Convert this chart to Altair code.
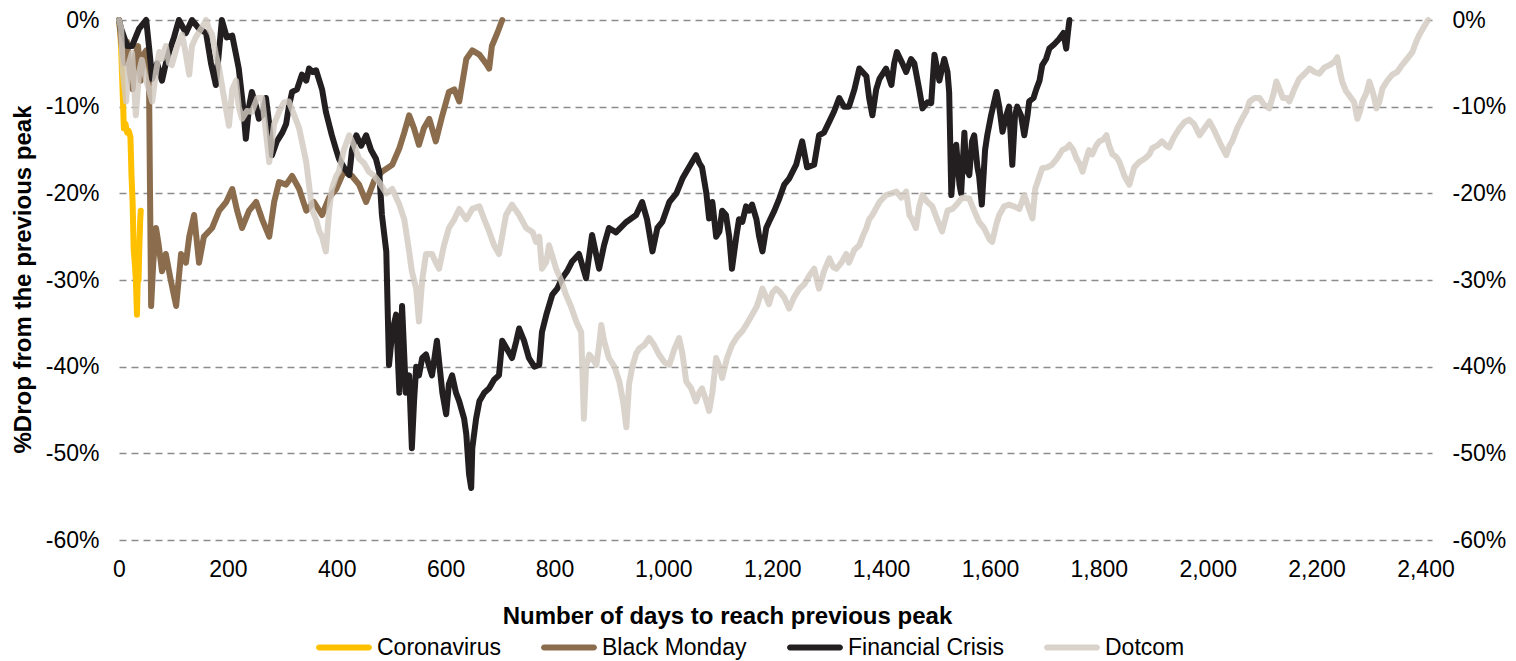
import altair as alt
import pandas as pd

FONT = "Liberation Sans, Arial, Helvetica, sans-serif"

series_names = ["Coronavirus", "Black Monday", "Financial Crisis", "Dotcom"]
series_colors = ["#FFC000", "#8B6D4D", "#231F20", "#D9D3CC"]
x_ticks = list(range(0, 2401, 200))
y_ticks = [0, -10, -20, -30, -40, -50, -60]

# Coronavirus
cv_days = [0, 2, 4, 6, 9, 12, 15, 18, 21, 23, 25, 27, 29, 31, 33, 34, 35, 36, 37, 38, 39, 40]
cv_pct = [0, -1, -3.3, -7, -12.5, -12, -13, -12.8, -13.5, -18, -21, -26.5, -28, -30, -34, -31, -29, -30, -27, -25, -23, -22]

# Black Monday
bm_days = [0, 5, 10, 15, 20, 25, 30, 35, 40, 45, 50, 55, 57, 59, 63, 68, 73, 79, 86, 95,
           105, 114, 123, 129, 138, 147, 156, 171, 184, 197, 208, 217, 226, 239, 252, 263, 276, 285, 294, 307,
           318, 331, 344, 358, 373, 386, 399, 413, 428, 441, 454, 469, 483, 502, 515, 524, 533, 542, 551, 560,
           570, 582, 594, 606, 616, 625, 638, 649, 662, 674, 680, 685, 695, 704]
bm_pct = [0, -3, -5, -2.5, -6, -8, -4, -3, -7, -4, -3.5, -6, -20, -33, -28, -24, -26, -29, -27, -30,
          -33, -27, -28, -25, -22.5, -28, -25, -24, -22, -21, -19.5, -22, -24, -22, -21, -23, -25, -21, -18.7, -19,
          -18, -19.5, -22, -21, -22.5, -20.5, -19.5, -17.5, -18, -19, -21, -18.5, -17.5, -16.7, -14.8, -13, -11, -12.5, -14.4, -12.5,
          -11.4, -14, -11, -8.3, -8, -9.4, -4.5, -3.5, -4, -5, -5.6, -3, -1.5, 0]

# Financial Crisis
fc_days = [0, 4, 15, 24, 37, 50, 55, 61, 70, 79, 86, 92, 101, 110, 123, 134, 147, 160, 169, 178,
           189, 198, 208, 215, 220, 228, 233, 239, 244, 252, 257, 263, 270, 276, 281, 290, 300, 307, 312, 318,
           327, 336, 344, 349, 356, 362, 368, 373, 380, 391, 399, 404, 413, 423, 428, 436, 445, 454, 463, 472,
           478, 483, 491, 496, 502, 509, 515, 520, 527, 533, 538, 542, 546, 551, 557, 564, 570, 575, 584, 594,
           601, 606, 612, 619, 625, 634, 638, 643, 647, 649, 656, 662, 671, 680, 689, 698, 704, 713, 722, 730,
           735, 744, 753, 763, 772, 777, 785, 796, 805, 814, 823, 832, 845, 858, 869, 882, 891, 900, 913, 932,
           950, 961, 970, 980, 989, 998, 1011, 1024, 1035, 1047, 1060, 1066, 1071, 1079, 1084, 1090, 1097, 1103, 1108, 1115,
           1121, 1126, 1134, 1139, 1145, 1152, 1158, 1163, 1171, 1176, 1182, 1189, 1194, 1204, 1213, 1222, 1231, 1244, 1255, 1264,
           1277, 1286, 1295, 1305, 1314, 1323, 1332, 1341, 1351, 1360, 1373, 1378, 1384, 1391, 1397, 1409, 1419, 1424, 1429, 1439,
           1446, 1455, 1461, 1470, 1476, 1485, 1492, 1498, 1507, 1516, 1522, 1525, 1529, 1534, 1538, 1544, 1547, 1553, 1556, 1562,
           1567, 1571, 1577, 1580, 1585, 1591, 1595, 1602, 1612, 1617, 1623, 1630, 1635, 1641, 1646, 1650, 1657, 1663, 1669, 1672,
           1680, 1685, 1691, 1696, 1703, 1709, 1718, 1727, 1735, 1740, 1744, 1746]
fc_pct = [0, -1, -3, -3, -1, 0, -3, -6.8, -5, -7, -5, -3.7, -2, 0, -1.5, 0, -1, -1.5, -5, -7.5,
          0, -2, -1.8, -4, -5.6, -10, -13.7, -10, -8.3, -10, -11.4, -11, -9, -12, -15.6, -14, -13, -12, -10, -8.3,
          -8, -6.3, -7, -5.6, -6, -5.8, -7, -8, -10.6, -13.3, -15, -16, -17, -17.9, -15, -13.3, -14.5, -13.3, -15, -16,
          -17.5, -22.5, -26.7, -39.8, -36, -34, -43, -33, -43, -41, -49.4, -44, -40, -41, -39, -38.6, -40, -41, -37, -43,
          -45.5, -42, -41, -43, -44, -46, -47.8, -52.4, -54, -49.4, -46, -44, -43, -42.5, -41.5, -41, -37, -38, -39, -37,
          -35.6, -37, -39, -40, -39.8, -36, -34, -31.7, -31, -29.8, -29, -27.9, -27, -29.8, -24.8, -28.7, -26, -24, -24.5, -23.3,
          -22.5, -21, -23, -26.7, -24, -23.3, -21, -20, -18.3, -17, -15.6, -16.5, -17, -20, -22.9, -21, -25, -24.4, -22, -22.5,
          -25, -28.7, -25, -23, -23.3, -21.5, -22, -21.3, -23, -25, -26.7, -24, -23.3, -22, -20.6, -19, -18.3, -16.7, -14, -17,
          -16.7, -13.3, -13, -11.7, -10.5, -9, -10, -10, -8, -5.6, -6.5, -9, -11, -8, -6.8, -5.6, -7.5, -5, -3.7, -5,
          -6, -4.5, -5, -8, -10.2, -9.5, -9.6, -4, -7, -4.5, -6, -8.3, -20.2, -16, -14.4, -19, -20, -13, -17, -17.9,
          -14, -13.3, -17, -18, -21.3, -15, -13.3, -11, -8.3, -10, -12.9, -11, -10, -16.7, -11, -10, -11, -13.3, -11, -9.4,
          -9, -8, -7, -5.2, -4.5, -3.3, -2.8, -2.2, -1.5, -3.3, -1, 0]

# Dotcom
dc_days = [0, 4, 7, 13, 18, 24, 31, 37, 42, 50, 55, 61, 68, 74, 79, 86, 92, 97, 107, 116,
           123, 129, 134, 141, 151, 160, 165, 171, 178, 184, 193, 202, 208, 215, 220, 226, 235, 244, 254, 263,
           270, 276, 285, 294, 303, 312, 322, 331, 336, 344, 349, 355, 362, 368, 373, 380, 386, 391, 399, 404,
           413, 423, 432, 441, 450, 459, 469, 478, 491, 502, 515, 524, 533, 538, 546, 551, 557, 564, 575, 582,
           588, 597, 606, 616, 625, 638, 649, 662, 671, 680, 689, 698, 711, 722, 735, 748, 760, 766, 772, 777,
           785, 790, 803, 812, 821, 830, 840, 849, 854, 858, 864, 869, 877, 882, 886, 891, 900, 910, 919, 926,
           932, 937, 943, 950, 956, 965, 974, 983, 992, 1002, 1011, 1020, 1029, 1035, 1042, 1051, 1060, 1066, 1071, 1079,
           1084, 1090, 1097, 1103, 1108, 1117, 1126, 1136, 1145, 1154, 1163, 1172, 1182, 1189, 1194, 1200, 1207, 1213, 1222, 1231,
           1240, 1250, 1259, 1268, 1277, 1282, 1286, 1295, 1305, 1312, 1318, 1327, 1336, 1341, 1351, 1360, 1366, 1373, 1378, 1384,
           1397, 1409, 1419, 1428, 1437, 1446, 1452, 1457, 1464, 1470, 1476, 1485, 1494, 1503, 1512, 1522, 1531, 1540, 1549, 1562,
           1571, 1580, 1589, 1599, 1604, 1612, 1617, 1626, 1635, 1644, 1654, 1663, 1670, 1678, 1683, 1691, 1696, 1705, 1714, 1723,
           1733, 1740, 1746, 1753, 1759, 1764, 1770, 1777, 1782, 1788, 1795, 1801, 1808, 1814, 1819, 1825, 1832, 1838, 1847, 1856,
           1865, 1874, 1884, 1893, 1898, 1907, 1916, 1924, 1929, 1938, 1948, 1957, 1966, 1975, 1985, 1994, 2003, 2010, 2016, 2025,
           2034, 2040, 2045, 2054, 2063, 2071, 2077, 2086, 2095, 2104, 2113, 2121, 2126, 2132, 2138, 2145, 2150, 2159, 2168, 2178,
           2187, 2196, 2205, 2214, 2224, 2233, 2238, 2243, 2247, 2254, 2260, 2269, 2275, 2280, 2284, 2291, 2297, 2304, 2310, 2315,
           2321, 2330, 2339, 2348, 2357, 2366, 2376, 2383, 2388, 2397, 2405]
dc_pct = [0, -1, -6, -9.4, -5, -3.8, -11, -6, -4.6, -7, -8, -9.4, -6, -3.7, -4.5, -3, -5, -5.2, -3, -1.7,
          -4, -6.3, -3, -2, -1, 0, -1, -1.7, -4, -5.6, -9, -12.2, -8, -7, -10, -11.4, -10.5, -10.6, -9, -9,
          -13, -16.4, -12, -10.6, -9.5, -9.4, -11, -12.5, -14, -16.4, -19, -22, -23, -24.4, -25, -26.7, -22, -19.5, -18, -17.5,
          -15, -13.3, -14.5, -16, -16.5, -17.5, -18, -18.7, -20, -19.5, -21.3, -23, -26.7, -29, -31, -34.8, -30, -27, -27, -28,
          -28.7, -26, -24, -23, -21.8, -23, -21.8, -21.5, -23, -24.4, -26, -27, -22.5, -21.3, -22.5, -24, -24.5, -25.6, -25, -28.7,
          -27.9, -26, -28.7, -30, -31.7, -33, -34.8, -36, -46, -40, -38.6, -39, -39.8, -37.5, -35.2, -37, -39, -40, -41.7, -44,
          -47, -42, -40, -38.5, -37.9, -37.5, -36.7, -37.5, -38.6, -39.5, -39.8, -38, -36.7, -38.5, -41.7, -42.5, -44, -43, -42.5, -44,
          -45.1, -43, -39, -40, -41.3, -39, -37.5, -36.5, -35.9, -35, -34, -33, -31, -32, -32.8, -31.5, -31, -31.3, -32, -33.3,
          -32, -31, -30.5, -29.5, -28.7, -30, -31, -29, -27.5, -28.5, -28.7, -28, -27, -28, -26.5, -26, -25, -24, -23, -22.5,
          -21, -20.2, -20, -19.8, -20.5, -19.8, -22.5, -23, -24, -21.5, -20.2, -21, -21.5, -23, -24.4, -22, -21.8, -21.2, -20.5, -20.6,
          -22, -23.3, -24, -25.3, -25.6, -23.5, -22.5, -21.5, -21.3, -21.5, -21.8, -20.2, -21.5, -22.9, -19.5, -18, -17.1, -17, -16.7, -16,
          -15, -14.8, -14.4, -15, -16, -16.5, -17.5, -16, -15, -15.5, -14.5, -14, -13.8, -13.3, -14.5, -15.5, -15.8, -16.4, -18, -19,
          -17, -16.4, -16, -15.5, -14.8, -14.5, -14, -14.5, -14.7, -13.5, -12.5, -11.8, -11.5, -12, -13.3, -12.5, -11.7, -12.5, -13.3, -14.5,
          -15.6, -14.5, -14, -12.5, -11.4, -10.5, -9.4, -9, -9, -9.8, -10.2, -8.5, -7.1, -8, -9, -9, -9.4, -8, -6.8, -6.2,
          -5.6, -6, -6.2, -5.5, -5.2, -4.8, -4.3, -6, -7.1, -8.2, -8.7, -9.5, -11.4, -10.5, -9.4, -8.5, -7.1, -8.5, -10.2, -9.5,
          -7.9, -7, -6.3, -6, -5.2, -4.5, -3.7, -2.5, -1.8, -0.8, 0]

x_scale = alt.Scale(domain=[0, 2412], nice=False, zero=False)
y_scale = alt.Scale(domain=[-60, 0], nice=False, zero=False)

x_axis = alt.Axis(
    values=x_ticks, format=",d", grid=False, domain=False, ticks=False, tickSize=0,
    labelPadding=18, labelFontSize=23, labelFlush=False, labelOverlap=False,
    title="Number of days to reach previous peak", titleFontSize=24, titleFontWeight="bold",
    titleX=608, titleY=83, titleAlign="center", titleBaseline="alphabetic",
)
y_left = alt.Axis(
    orient="left", values=y_ticks, labelExpr="datum.value + '%'",
    grid=True, gridColor="#8C8C8C", gridDash=[7, 5], gridWidth=1.5,
    domain=False, ticks=False, tickSize=0, labelPadding=20, labelFontSize=23, labelOverlap=False,
    title="%Drop from the previous peak", titleFontSize=24, titleFontWeight="bold",
    titleAngle=270, titleX=-89, titleY=259, titleAlign="center", titleBaseline="alphabetic",
)
y_right = alt.Axis(
    orient="right", values=y_ticks, labelExpr="datum.value + '%'", grid=False,
    domain=False, ticks=False, tickSize=0, labelPadding=20, labelFontSize=23, labelOverlap=False,
    title=None,
)


def line_layer(days, pct, color, opacity, y_axis):
    df = pd.DataFrame({"day": days, "pct": pct})
    return alt.Chart(df).mark_line(
        color=color, strokeWidth=6, opacity=opacity, strokeJoin="round", strokeCap="round"
    ).encode(
        x=alt.X("day:Q", scale=x_scale, axis=x_axis),
        y=alt.Y("pct:Q", scale=y_scale, axis=y_axis),
        order=alt.Order("day:Q"),
    )


cv = line_layer(cv_days, cv_pct, series_colors[0], 1.0, y_left)
bm = line_layer(bm_days, bm_pct, series_colors[1], 1.0, y_right)
fc = line_layer(fc_days, fc_pct, series_colors[2], 1.0, None)
dc = line_layer(dc_days, dc_pct, "#D1C9C1", 0.82, None)

capsule = ("M-0.89,-0.107 L0.89,-0.107 A0.107,0.107 0 0 1 0.89,0.107 "
           "L-0.89,0.107 A0.107,0.107 0 0 1 -0.89,-0.107 Z")

legend_layer = alt.Chart(pd.DataFrame({"series": series_names})).mark_point(
    filled=True, opacity=0
).encode(
    x=alt.value(0),
    y=alt.value(0),
    color=alt.Color(
        "series:N",
        scale=alt.Scale(domain=series_names, range=series_colors),
        sort=series_names,
        legend=alt.Legend(
            title=None, orient="none", legendX=197, legendY=599.5, direction="horizontal",
            columns=4, symbolType=capsule, symbolSize=3136, symbolOpacity=1, symbolStrokeWidth=0,
            labelFontSize=23, labelFont=FONT, labelColor="black", labelOffset=5,
            columnPadding=40, padding=0,
        ),
    ),
)

chart = alt.layer(cv, bm, fc, dc, legend_layer).resolve_axis(y="independent").properties(
    width=1313, height=520,
    autosize=alt.AutoSizeParams(type="none"),
    padding={"left": 111, "top": 12, "right": 76, "bottom": 123},
    background="white",
).configure_axis(
    labelFont=FONT, titleFont=FONT, labelColor="black", titleColor="black",
).configure_view(stroke=None)

chart.save("out.html", embed_options={"renderer": "svg", "actions": False})
